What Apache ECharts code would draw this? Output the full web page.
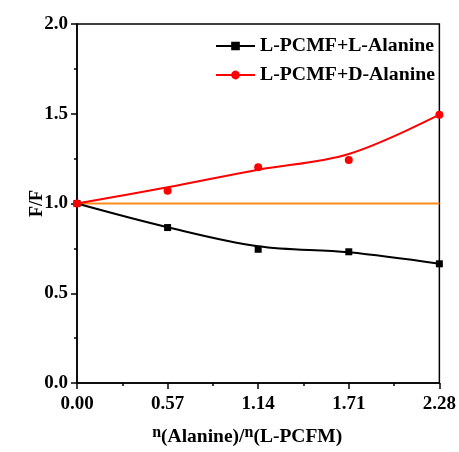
<!DOCTYPE html>
<html>
<head>
<meta charset="utf-8">
<script src="https://cdn.jsdelivr.net/npm/echarts@6/dist/echarts.min.js"></script>
<style>html,body{margin:0;padding:0;background:#fff;}#c{width:459px;height:452px;}</style>
</head>
<body>
<div id="c"></div>
<script>
var xValues = [0, 0.57, 1.14, 1.71, 2.28];
var lAlanine = [1.0, 0.866, 0.745, 0.731, 0.664];
var dAlanine = [1.0, 1.071, 1.202, 1.243, 1.495];
var lFit = [1.0, 0.868, 0.762, 0.728, 0.664];
var dFit = [1.0, 1.09, 1.188, 1.276, 1.495];
var refLine = [1.0, 1.0];
var refX = [0, 2.28];
var seriesNames = ['L-PCMF+L-Alanine', 'L-PCMF+D-Alanine'];
var xTitle = ['n', '(Alanine)/', 'n', '(L-PCFM)'];
var yTitle = 'F/F';

function pairs(xs, ys) { return xs.map(function (x, i) { return [x, ys[i]]; }); }

var FONT = '"Liberation Serif","Times New Roman",serif';
var chart = echarts.init(document.getElementById('c'), null, { renderer: 'canvas' });
var sqIcon = 'path://M0,4L14,4L14,1L22,1L22,4L36,4L36,6L22,6L22,9L14,9L14,6L0,6Z';
var ciIcon = 'path://M0,4L14.1,4A4,4 0 0 1 21.9,4L36,4L36,6L21.9,6A4,4 0 0 1 14.1,6L0,6Z';

chart.setOption({
  backgroundColor: '#fff',
  animation: false,
  grid: { left: 77, right: 19, top: 24, bottom: 67, show: true, borderColor: '#000', borderWidth: 1.5, backgroundColor: 'transparent' },
  legend: {
    orient: 'vertical', left: 211, top: 31, itemWidth: 39, itemHeight: 10, itemGap: 9,
    textStyle: { fontFamily: FONT, fontWeight: 'bold', fontSize: 19.8, color: '#000', lineHeight: 19 },
    data: [{ name: seriesNames[0], icon: sqIcon, itemStyle: { color: '#000' } }, { name: seriesNames[1], icon: ciIcon, itemStyle: { color: '#FF0000' } }]
  },
  xAxis: {
    type: 'value', min: 0, max: 2.28, interval: 0.57,
    axisLine: { lineStyle: { color: '#000', width: 1.5 } },
    axisTick: { length: 6, lineStyle: { color: '#000', width: 1.5 } },
    minorTick: { show: true, splitNumber: 2, length: 3, lineStyle: { color: '#000', width: 1.5 } },
    splitLine: { show: false },
    axisLabel: { margin: 12, color: '#000', fontFamily: FONT, fontWeight: 'bold', fontSize: 19,
      formatter: function (v) { return v.toFixed(2); } },
    name: '{n|' + xTitle[0] + '}{t|' + xTitle[1] + '}{n|' + xTitle[2] + '}{t|' + xTitle[3] + '}',
    nameLocation: 'middle', nameGap: 42, nameMoveOverlap: false,
    nameTextStyle: {
      padding: [0, 22, 0, 0],
      rich: {
        n: { fontFamily: FONT, fontWeight: 'bold', fontSize: 16, color: '#000', verticalAlign: 'top', lineHeight: 16 },
        t: { fontFamily: FONT, fontWeight: 'bold', fontSize: 19.5, color: '#000', lineHeight: 24 }
      }
    }
  },
  yAxis: {
    type: 'value', min: 0, max: 2, interval: 0.5,
    axisLine: { show: true, lineStyle: { color: '#000', width: 1.5 } },
    axisTick: { show: true, length: 6, lineStyle: { color: '#000', width: 1.5 } },
    minorTick: { show: true, splitNumber: 2, length: 3, lineStyle: { color: '#000', width: 1.5 } },
    splitLine: { show: false },
    axisLabel: { margin: 9, color: '#000', fontFamily: FONT, fontWeight: 'bold', fontSize: 19,
      formatter: function (v) { return v.toFixed(1); } },
    name: yTitle, nameLocation: 'middle', nameGap: 31, nameRotate: 90, nameMoveOverlap: false,
    nameTextStyle: { fontFamily: FONT, fontWeight: 'bold', fontSize: 18, color: '#000' }
  },
  series: [
    { name: 'ref', type: 'line', data: pairs(refX, refLine), showSymbol: false, symbol: 'none',
      lineStyle: { color: '#FF8C1A', width: 2 }, z: 1 },
    { name: 'fitL', type: 'line', data: pairs(xValues, lFit), smooth: 0.35, showSymbol: false, symbol: 'none',
      lineStyle: { color: '#000', width: 2 }, z: 2 },
    { name: 'fitD', type: 'line', data: pairs(xValues, dFit), smooth: 0.35, showSymbol: false, symbol: 'none',
      lineStyle: { color: '#FF0000', width: 2 }, z: 2 },
    { name: seriesNames[0], type: 'scatter', data: pairs(xValues, lAlanine), symbol: 'rect', symbolSize: 7,
      itemStyle: { color: '#000', opacity: 1 }, z: 3 },
    { name: seriesNames[1], type: 'scatter', data: pairs(xValues, dAlanine), symbol: 'circle', symbolSize: 8,
      itemStyle: { color: '#FF0000', opacity: 1 }, z: 3 }
  ]
});
</script>
</body>
</html>
